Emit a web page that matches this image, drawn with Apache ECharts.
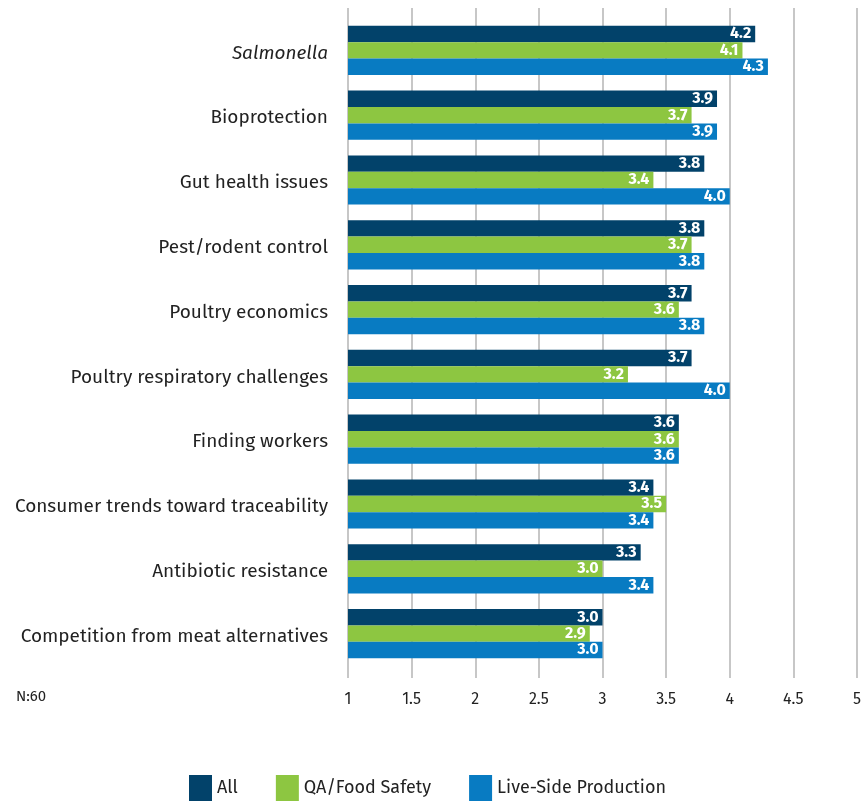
<!DOCTYPE html>
<html>
<head>
<meta charset="utf-8">
<script src="https://cdn.jsdelivr.net/npm/echarts@6/dist/echarts.min.js"></script>
<style>
  html, body { margin: 0; padding: 0; background: #fff; }
  #chart { width: 865px; height: 802px; }
</style>
</head>
<body>
<div id="chart"></div>
<script>
// Topics rated by respondents (mean score, 1–5 scale)
const categories = [
  'Salmonella',
  'Bioprotection',
  'Gut health issues',
  'Pest/rodent control',
  'Poultry economics',
  'Poultry respiratory challenges',
  'Finding workers',
  'Consumer trends toward traceability',
  'Antibiotic resistance',
  'Competition from meat alternatives'
];
const allValues  = [4.2, 3.9, 3.8, 3.8, 3.7, 3.7, 3.6, 3.4, 3.3, 3.0];
const qaValues   = [4.1, 3.7, 3.4, 3.7, 3.6, 3.2, 3.6, 3.5, 3.0, 2.9];
const liveValues = [4.3, 3.9, 4.0, 3.8, 3.8, 4.0, 3.6, 3.4, 3.4, 3.0];
const seriesNames = ['All', 'QA/Food Safety', 'Live-Side Production'];
const colors = ['#02426a', '#8dc641', '#087bc2'];

const FONT = '"Fira Sans", "Noto Sans", sans-serif';

const chart = echarts.init(document.getElementById('chart'), null, { renderer: 'canvas' });

const barLabel = {
  show: true,
  position: 'insideRight',
  distance: 4,
  color: '#fff',
  fontWeight: 'bold',
  fontSize: 16,
  fontFamily: FONT,
  formatter: p => p.value.toFixed(1)
};

function makeSeries(name, data, color) {
  return {
    name, type: 'bar', data,
    xAxisIndex: 1, yAxisIndex: 1,
    itemStyle: { color },
    barGap: '0%',
    barCategoryGap: '24%',
    label: barLabel,
    emphasis: { disabled: true }
  };
}

chart.setOption({
  animation: false,
  textStyle: { fontFamily: FONT },
  legend: {
    bottom: -4,
    left: 184,
    itemWidth: 23,
    itemHeight: 26,
    itemGap: 38,
    icon: 'rect',
    textStyle: { fontSize: 18, color: '#222', fontFamily: FONT },
    data: seriesNames
  },
  graphic: [{
    type: 'text', left: 16, top: 689,
    style: { text: 'N:60', fontSize: 15, fill: '#222', fontFamily: FONT }
  }],
  grid: [
    // background grid: vertical gridlines and scale labels
    { left: 348, right: 8, top: 8, height: 670 },
    // bars
    { left: 348, right: 8, top: 18, height: 648 }
  ],
  xAxis: [
    {
      gridIndex: 0, type: 'value', min: 1, max: 5, interval: 0.5,
      axisLine: { show: false }, axisTick: { show: false },
      splitLine: { show: true, lineStyle: { color: '#b4b4b4', width: 1.5 } },
      axisLabel: { fontSize: 16, color: '#222', margin: 14, fontFamily: FONT }
    },
    {
      gridIndex: 1, type: 'value', min: 1, max: 5, interval: 0.5,
      axisLine: { show: false }, axisTick: { show: false },
      splitLine: { show: false }, axisLabel: { show: false }
    }
  ],
  yAxis: [
    { gridIndex: 0, type: 'value', show: false },
    {
      gridIndex: 1, type: 'category', data: categories, inverse: true,
      axisLine: { show: false }, axisTick: { show: false },
      axisLabel: {
        fontSize: 19, color: '#222', margin: 20, fontFamily: FONT,
        padding: [6, 0, 0, 0],
        formatter: v => v === 'Salmonella' ? '{i|' + v + '}' : v,
        rich: { i: { fontStyle: 'italic', fontSize: 19, color: '#222', fontFamily: FONT } }
      }
    }
  ],
  series: [
    makeSeries(seriesNames[0], allValues, colors[0]),
    makeSeries(seriesNames[1], qaValues, colors[1]),
    makeSeries(seriesNames[2], liveValues, colors[2])
  ]
});
</script>
</body>
</html>
